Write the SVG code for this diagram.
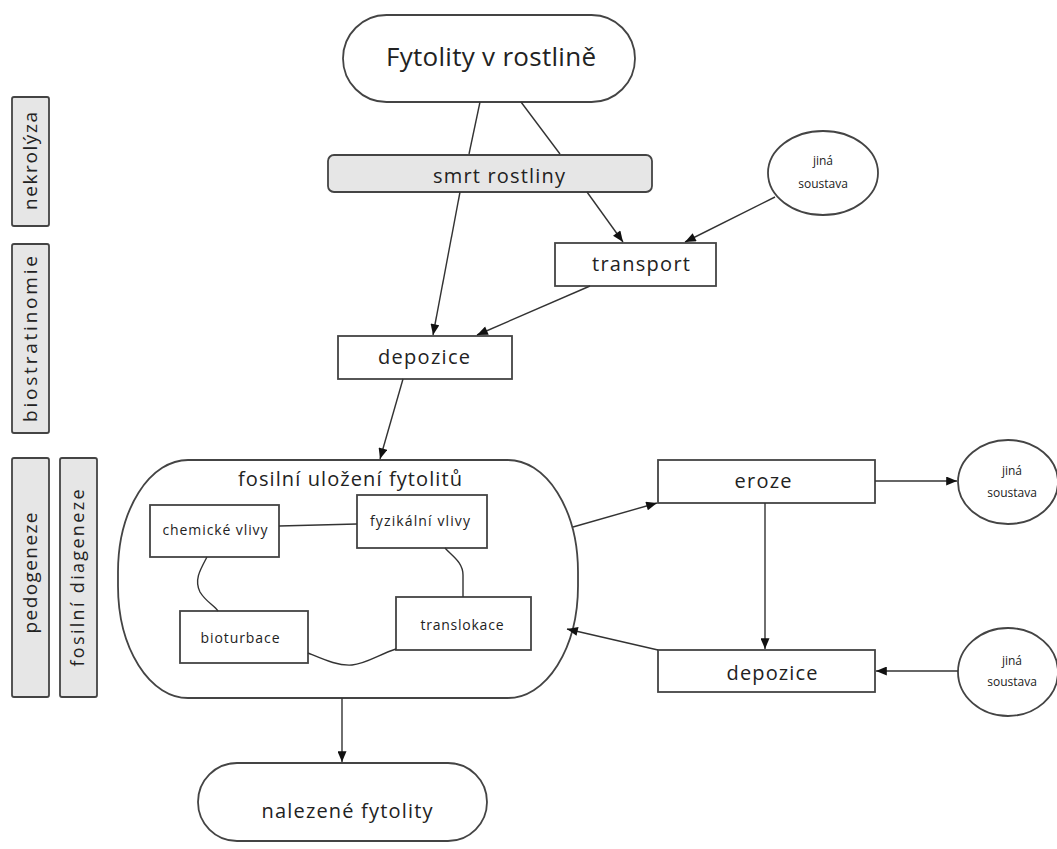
<svg xmlns="http://www.w3.org/2000/svg" width="1057" height="849" viewBox="0 0 1057 849">
<style>
.box{fill:#fff;stroke:#444;stroke-width:1.8}
.gray{fill:#e6e6e6;stroke:#444;stroke-width:1.8}
.t{font-family:"Open Sans","Noto Sans",sans-serif;fill:#222;text-anchor:middle}
.c{fill:none;stroke:#333;stroke-width:1.4}
.a{marker-end:url(#ah)}
</style>
<defs>
<marker id="ah" viewBox="0 0 12 10" refX="12" refY="5" markerWidth="12" markerHeight="9" markerUnits="userSpaceOnUse" orient="auto">
<path d="M0,0 L12,5 L0,10 Z" fill="#111"/>
</marker>
</defs>
<rect width="1057" height="849" fill="#fff"/>

<g id="label-nekrolyza">
<rect class="gray" x="12" y="97" width="37" height="129" rx="2"/>
<text class="t" font-size="19" transform="translate(37,161) rotate(-90)" textLength="98">nekrolýza</text>
</g>
<g id="label-biostratinomie">
<rect class="gray" x="12" y="244" width="37" height="189" rx="2"/>
<text class="t" font-size="19" transform="translate(37,339) rotate(-90)" textLength="166">biostratinomie</text>
</g>
<g id="label-pedogeneze">
<rect class="gray" x="12" y="458" width="37" height="239" rx="2"/>
<text class="t" font-size="19" transform="translate(37,573) rotate(-90)" textLength="121">pedogeneze</text>
</g>
<g id="label-fosilni-diageneze">
<rect class="gray" x="60" y="458" width="37" height="239" rx="2"/>
<text class="t" font-size="18" transform="translate(84,578) rotate(-90)" textLength="177">fosilní diageneze</text>
</g>

<g id="node-fytolity">
<rect class="box" x="343" y="15" width="292" height="87" rx="43.5"/>
<text class="t" font-size="26" x="491" y="66" textLength="210">Fytolity v rostlině</text>
</g>
<g id="node-smrt">
<rect class="gray" x="328" y="155" width="324" height="37" rx="6"/>
<text class="t" font-size="20" x="499" y="183" textLength="132">smrt rostliny</text>
</g>
<g id="node-jina1">
<ellipse class="box" cx="823" cy="173" rx="55" ry="42"/>
<text class="t" font-size="12" x="823" y="165">jiná</text>
<text class="t" font-size="12" x="823" y="188">soustava</text>
</g>
<g id="node-transport">
<rect class="box" x="555" y="243" width="161" height="43"/>
<text class="t" font-size="20" x="641" y="271" textLength="98">transport</text>
</g>
<g id="node-depozice1">
<rect class="box" x="338" y="336" width="174" height="43"/>
<text class="t" font-size="20" x="424" y="364" textLength="92">depozice</text>
</g>
<g id="node-fosilni">
<path class="box" d="M188,460 H508 A70,112 0 0 1 578,572 V586 A70,112 0 0 1 508,698 H188 A70,112 0 0 1 118,586 V572 A70,112 0 0 1 188,460 Z"/>
<text class="t" font-size="20" x="350" y="486" textLength="224">fosilní uložení fytolitů</text>
</g>
<g id="node-chemicke">
<rect class="box" x="150" y="505" width="129" height="52"/>
<text class="t" font-size="14" x="215" y="535" textLength="105">chemické vlivy</text>
</g>
<g id="node-fyzikalni">
<rect class="box" x="357" y="495" width="130" height="53"/>
<text class="t" font-size="14" x="420" y="526" textLength="100">fyzikální vlivy</text>
</g>
<g id="node-bioturbace">
<rect class="box" x="180" y="611" width="128" height="52"/>
<text class="t" font-size="14" x="240" y="643" textLength="79">bioturbace</text>
</g>
<g id="node-translokace">
<rect class="box" x="396" y="597" width="135" height="53"/>
<text class="t" font-size="14" x="462" y="630" textLength="83">translokace</text>
</g>
<g id="node-eroze">
<rect class="box" x="658" y="460" width="217" height="43"/>
<text class="t" font-size="20" x="763" y="488" textLength="57">eroze</text>
</g>
<g id="node-depozice2">
<rect class="box" x="658" y="650" width="217" height="42"/>
<text class="t" font-size="20" x="772" y="680" textLength="91">depozice</text>
</g>
<g id="node-jina2">
<ellipse class="box" cx="1008" cy="482" rx="50" ry="42"/>
<text class="t" font-size="12" x="1012" y="475">jiná</text>
<text class="t" font-size="12" x="1012" y="497">soustava</text>
</g>
<g id="node-jina3">
<ellipse class="box" cx="1008" cy="672" rx="50" ry="44"/>
<text class="t" font-size="12" x="1012" y="665">jiná</text>
<text class="t" font-size="12" x="1012" y="686">soustava</text>
</g>
<g id="node-nalezene">
<rect class="box" x="198" y="763" width="289" height="78" rx="39"/>
<text class="t" font-size="20" x="347" y="818" textLength="171">nalezené fytolity</text>
</g>

<g id="connectors">
<line class="c" x1="480" y1="102" x2="469" y2="154"/>
<line class="c" x1="521" y1="102" x2="560" y2="154"/>
<line class="c a" x1="460" y1="192" x2="433" y2="335"/>
<line class="c a" x1="587" y1="192" x2="623" y2="242"/>
<line class="c a" x1="775" y1="197" x2="685" y2="242"/>
<line class="c a" x1="590" y1="286" x2="477" y2="335"/>
<line class="c a" x1="403" y1="379" x2="380" y2="459"/>
<line class="c a" x1="573" y1="527" x2="657" y2="503"/>
<line class="c a" x1="765" y1="503" x2="765" y2="649"/>
<line class="c a" x1="875" y1="481" x2="957" y2="481"/>
<line class="c a" x1="958" y1="671" x2="876" y2="671"/>
<line class="c a" x1="658" y1="650" x2="567" y2="629"/>
<line class="c a" x1="342" y1="698" x2="342" y2="762"/>
<line class="c" x1="279" y1="526" x2="357" y2="524"/>
<path class="c" d="M207,557 C200,570 194,580 200,592 C206,602 214,605 218,611"/>
<path class="c" d="M445,548 C452,556 463,562 463,575 V597"/>
<path class="c" d="M308,653 C325,660 338,666 352,665 C366,664 380,654 396,649"/>
</g>
</svg>
